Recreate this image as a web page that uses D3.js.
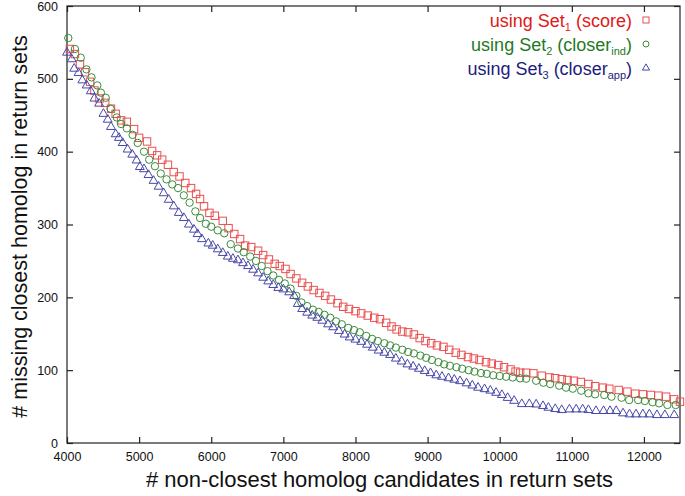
<!DOCTYPE html>
<html><head><meta charset="utf-8">
<script src="https://cdn.jsdelivr.net/npm/d3@7"></script>
<style>body{margin:0;background:#fff}svg{display:block}</style>
</head><body>
<svg id="c" width="685" height="496"></svg>
<script>
const xTicks = [4000,5000,6000,7000,8000,9000,10000,11000,12000];
const yTicks = [0,100,200,300,400,500,600];

const set1X = [4040,4110,4180,4250,4320,4380,4450,4530,4610,4675,4750,4830,4930,5000,5110,5180,5250,5320,5400,5480,5560,5640,5720,5790,5845,5900,5975,6050,6160,6240,6320,6400,6470,6555,6650,6720,6800,6880,6950,7030,7100,7180,7260,7340,7420,7500,7580,7660,7750,7830,7910,8000,8080,8170,8260,8340,8425,8500,8570,8650,8730,8810,8890,8970,9050,9130,9220,9300,9390,9470,9560,9640,9720,9810,9890,9980,10060,10150,10220,10283,10366,10467,10583,10690,10770,10860,10940,11030,11125,11230,11323,11430,11520,11650,11770,11880,11985,12096,12200,12307,12418,12500];
const set1Y = [541,534,520,509,496,484,473,467,459,452,443,441,431,419,414,401,395,389,382,372,366,357,350,342,335,325,316,312,305,295,287,280,271,269,264,258,252,246,243,239,232,226,220,215,210,206,202,197,192,187,184,181,178,175,172,170,165,160,156,153,152,149,144,140,137,134,132,128,124,121,118,116,114,111,109,107,104,101,98,96.5,96.5,95.7,92.4,90,89,87.5,86.5,85.5,83.8,81,78,76,74.5,72.8,70.5,67.7,66.8,66,65,63.6,60,56.7];

const set2X = [4018,4110,4190,4270,4340,4420,4470,4537,4605,4690,4750,4830,4910,4980,5068,5140,5220,5300,5380,5460,5540,5620,5700,5780,5845,5925,6000,6090,6180,6270,6370,6450,6540,6620,6700,6780,6860,6940,7020,7100,7180,7250,7330,7410,7490,7570,7650,7730,7810,7900,7980,8060,8150,8230,8310,8400,8480,8560,8650,8730,8810,8900,8980,9060,9150,9230,9310,9400,9480,9570,9650,9740,9820,9910,10000,10090,10180,10283,10366,10505,10605,10700,10825,10920,11013,11130,11230,11323,11450,11550,11690,11795,11920,12013,12120,12210,12325,12440];
const set2Y = [556,541,529,513,502,491,481,474,459,447,438,432,423,412,400,389,380,370,362,355,350,340,330,318,309,301,297,292,288,273,267,262,256,250,243,236,230,224,219,212,202,193,188,183,180,176,172,167,163,158,155,152,147,143,140,137,134,131,128,125,123,120,117,114,111,108,106,104,102,100,98,96,95,93,92,91,90,88.8,88.3,85.5,82.8,81,78.7,76,74.6,71.8,68.2,66.8,65.9,63.6,62.2,59,59,57.7,55.9,54.5,52.2,52.2];

const set3X = [4000,4065,4100,4160,4212,4273,4330,4380,4445,4505,4565,4610,4675,4720,4772,4840,4905,4965,5010,5068,5130,5200,5270,5340,5410,5480,5550,5620,5690,5760,5810,5870,5960,6020,6090,6160,6230,6300,6370,6440,6510,6580,6650,6720,6790,6860,6930,7000,7080,7150,7200,7260,7330,7400,7470,7540,7620,7690,7770,7850,7920,8000,8080,8160,8240,8320,8400,8480,8560,8640,8720,8800,8880,8960,9040,9120,9200,9290,9370,9450,9540,9620,9700,9790,9870,9950,10030,10110,10200,10306,10410,10505,10600,10675,10770,10860,10967,11060,11150,11230,11335,11440,11530,11615,11710,11800,11890,11985,12075,12180,12290,12420];
const set3Y = [536,527,514,508,498,491,483,473,466,452,444,434,424,419,412,403,396,388,379,376,368,360,352,343,334,325,316,309,300,293,287,280,274,271,266,261,256,253,251,247,243,238,233,227,222,217,213,211,207,202,191,184,179,175,172,168,163,159,154,149,145,142,139,135,131,127,124,121,116,112,108,105,102,99,96,93,91,89,87,85,82,79,76,74,72,69,66,62,58,53.5,53.5,53,50.8,48.5,46.7,45.3,46.2,46.2,46.2,45.3,44,44,44,44,40.8,39.4,39.4,39.4,39.4,38.4,38.4,38.4];

const svg = d3.select("#c");
const L = 67, R = 680, T = 6, B = 443;
const x = d3.scaleLinear().domain([4000,12500]).range([L,R]);
const y = d3.scaleLinear().domain([0,600]).range([B,T]);
const tickFont = "Liberation Sans, Arial, sans-serif";

// frame
svg.append("rect").attr("x",L).attr("y",T).attr("width",R-L).attr("height",B-T)
  .attr("fill","none").attr("stroke","#222").attr("stroke-width",1.2);

// axes
const gx = svg.append("g").attr("transform",`translate(0,${B})`)
  .call(d3.axisBottom(x).tickValues(xTicks).tickSize(-6).tickPadding(9).tickFormat(d3.format("d")));
const gxt = svg.append("g").attr("transform",`translate(0,${T})`)
  .call(d3.axisTop(x).tickValues(xTicks).tickSize(-6).tickFormat(""));
const gy = svg.append("g").attr("transform",`translate(${L},0)`)
  .call(d3.axisLeft(y).tickValues(yTicks).tickSize(-6).tickPadding(9));
const gyr = svg.append("g").attr("transform",`translate(${R},0)`)
  .call(d3.axisRight(y).tickValues(yTicks).tickSize(-6).tickFormat(""));
[gx,gxt,gy,gyr].forEach(g=>{
  g.select(".domain").remove();
  g.selectAll("line").attr("stroke","#222").attr("stroke-width",1.2);
  g.selectAll("text").attr("font-family",tickFont).attr("font-size",12.5).attr("fill","#111");
});

// series
const red = "#e85050", green = "#3c8c3c", blue = "#4848a8";
function pts(xs, ys){ return xs.map((v,i)=>({x:v,y:ys[i]})); }

svg.append("g").selectAll("rect").data(pts(set1X,set1Y)).join("rect")
  .attr("x",d=>x(d.x)-3.7).attr("y",d=>y(d.y)-3.7).attr("width",7.4).attr("height",7.4)
  .attr("fill","none").attr("stroke",red).attr("stroke-width",1);
svg.append("g").selectAll("circle").data(pts(set2X,set2Y)).join("circle")
  .attr("cx",d=>x(d.x)).attr("cy",d=>y(d.y)).attr("r",3.7)
  .attr("fill","none").attr("stroke",green).attr("stroke-width",1);
const tri = d3.symbol().type(d3.symbolTriangle).size(34);
svg.append("g").selectAll("path").data(pts(set3X,set3Y)).join("path")
  .attr("d",tri).attr("transform",d=>`translate(${x(d.x)},${y(d.y)})`)
  .attr("fill","none").attr("stroke",blue).attr("stroke-width",1);

// legend
const leg = [
  {c:"#e01818", base:"using Set", sub:"1", rest:" (score)", subr:"", tail:"", m:"sq", ty:27},
  {c:"#1f7a1f", base:"using Set", sub:"2", rest:" (closer", subr:"ind", tail:")", m:"ci", ty:51},
  {c:"#1c1c80", base:"using Set", sub:"3", rest:" (closer", subr:"app", tail:")", m:"tr", ty:75}
];
leg.forEach((l,i)=>{
  const t = svg.append("text").attr("x",632).attr("y",l.ty).attr("text-anchor","end")
    .attr("font-family",tickFont).attr("font-size",18).attr("fill",l.c);
  t.append("tspan").text(l.base);
  t.append("tspan").text(l.sub).attr("font-size",11).attr("dy",4);
  t.append("tspan").text(l.rest).attr("dy",-4);
  if(l.subr){
    t.append("tspan").text(l.subr).attr("font-size",11).attr("dy",4);
    t.append("tspan").text(l.tail).attr("dy",-4);
  }
  const mx = 646, my = l.ty-7;
  if(l.m==="sq") svg.append("rect").attr("x",mx-3).attr("y",my-3).attr("width",6).attr("height",6).attr("fill","none").attr("stroke",red);
  if(l.m==="ci") svg.append("circle").attr("cx",mx).attr("cy",my).attr("r",3).attr("fill","none").attr("stroke",green);
  if(l.m==="tr") svg.append("path").attr("d",d3.symbol().type(d3.symbolTriangle).size(22)).attr("transform",`translate(${mx},${my})`).attr("fill","none").attr("stroke",blue);
});

// axis titles
svg.append("text").attr("x",(L+R)/2+6).attr("y",487).attr("text-anchor","middle")
  .attr("font-family",tickFont).attr("font-size",22).attr("fill","#111")
  .text("# non-closest homolog candidates in return sets");
svg.append("text").attr("transform",`translate(27,${(T+B)/2+2}) rotate(-90)`).attr("text-anchor","middle")
  .attr("font-family",tickFont).attr("font-size",21.5).attr("fill","#111")
  .text("# missing closest homolog in return sets");
</script>
</body></html>
